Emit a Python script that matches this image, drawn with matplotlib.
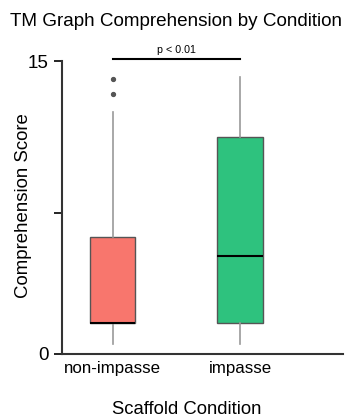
import matplotlib
matplotlib.use("Agg")
import matplotlib.pyplot as plt

plt.rcParams['font.family'] = ['Liberation Sans', 'DejaVu Sans']

categories = ["non-impasse", "impasse"]
whislo = [0.5, 0.5]
q1 = [1.6, 1.6]
med = [1.6, 5.0]
q3 = [6.0, 11.1]
whishi = [12.4, 14.2]
fliers = [[14.1, 13.3], []]
colors = ["#F8766D", "#2EC27E"]
title = "TM Graph Comprehension by Condition"
xlabel = "Scaffold Condition"
ylabel = "Comprehension Score"
sig_text = "p < 0.01"

fig = plt.figure(figsize=(3.46, 4.2), dpi=100)
ax = fig.add_axes([62/346, 66/420, 281/346, 293/420])

stats = []
for i, c in enumerate(categories):
    stats.append(dict(label=c, whislo=whislo[i], q1=q1[i], med=med[i], q3=q3[i],
                      whishi=whishi[i], fliers=fliers[i]))

bp = ax.bxp(stats, positions=[0, 1], widths=0.355, patch_artist=True, showcaps=False,
            boxprops=dict(edgecolor="#555555", linewidth=1.0),
            whiskerprops=dict(color="#999999", linewidth=1.2),
            medianprops=dict(color="black", linewidth=1.5),
            flierprops=dict(marker='o', markersize=2.8, markerfacecolor="#555555",
                            markeredgecolor="#555555"))
for patch, col in zip(bp['boxes'], colors):
    patch.set_facecolor(col)

ax.set_xlim(-0.40, 1.81)
ax.set_ylim(0, 15)
ax.set_yticks([0, 7.2, 15])
ax.set_yticklabels(["0", "", "15"], fontsize=13.5)
ax.set_xticks([0, 1])
ax.set_xticklabels(categories, fontsize=12.2)
ax.tick_params(axis='x', length=0, pad=5)
ax.tick_params(axis='y', length=5.5, width=1.2, pad=4)
for s in ["top", "right"]:
    ax.spines[s].set_visible(False)
for s in ["left", "bottom"]:
    ax.spines[s].set_linewidth(1.5)
    ax.spines[s].set_color("#333333")

# significance bar
ax.plot([0, 1], [15.1, 15.1], color="black", lw=1.5, clip_on=False)
ax.text(0.5, 15.3, sig_text, ha="center", va="bottom", fontsize=7.7)

fig.text(176/346, 1 - 22/420, title, ha="center", va="center", fontsize=13.6)
fig.text(187/346, 1 - 410/420, xlabel, ha="center", va="center", fontsize=13.3)
fig.text(24/346, 1 - 206/420, ylabel, ha="center", va="center", rotation=90, fontsize=13.4)

fig.savefig("out.png", dpi=100)
